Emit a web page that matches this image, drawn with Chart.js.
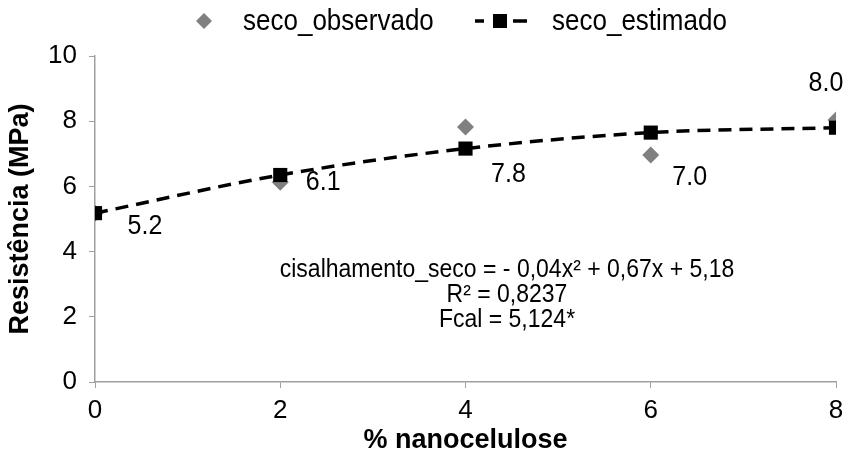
<!DOCTYPE html>
<html>
<head>
<meta charset="utf-8">
<script src="https://cdn.jsdelivr.net/npm/chart.js@4"></script>
<style>
  html, body { margin: 0; padding: 0; background: #fff; }
  #wrap { width: 847px; height: 457px; }
</style>
</head>
<body>
<div id="wrap"><canvas id="chart" width="847" height="457"></canvas></div>
<script>
const nanocelulose = [0, 2, 4, 6, 8];
const secoObservado = [5.18, 6.13, 7.82, 6.96, 8.04];
const secoEstimado = [5.18, 6.35, 7.16, 7.65, 7.80];
const rotulos = ["5.2", "6.1", "7.8", "7.0", "8.0"];
const equacao = ["cisalhamento_seco = - 0,04x² + 0,67x + 5,18", "R² = 0,8237", "Fcal = 5,124*"];

const FONT = "'Liberation Sans', Arial, sans-serif";

// text in the original is a bit taller than wide, stretch it slightly
function tallText(ctx, txt, x, y) {
  ctx.save();
  ctx.translate(x, y);
  ctx.scale(1, 1.12);
  ctx.fillText(txt, 0, 0);
  ctx.restore();
}

const labelsPlugin = {
  id: "labels",
  afterDatasetsDraw(chart) {
    const ctx = chart.ctx;
    const xs = chart.scales.x, ys = chart.scales.y;
    // label offsets (px) relative to the observed point
    const off = [[50, 13], [43, 0], [43, 47], [39, 22], [-10, -37]];
    ctx.save();
    ctx.fillStyle = "#000";
    ctx.font = "25px " + FONT;
    ctx.textAlign = "center";
    ctx.textBaseline = "middle";
    nanocelulose.forEach((x, i) => {
      tallText(ctx, rotulos[i], xs.getPixelForValue(x) + off[i][0], ys.getPixelForValue(secoObservado[i]) + off[i][1]);
    });
    ctx.font = "23px " + FONT;
    equacao.forEach((t, i) => tallText(ctx, t, 507, 270 + i * 25));

    // legend
    ctx.font = "26px " + FONT;
    ctx.textAlign = "left";
    ctx.fillStyle = "#808080";
    ctx.beginPath();
    ctx.moveTo(204, 13); ctx.lineTo(212, 21); ctx.lineTo(204, 29); ctx.lineTo(196, 21);
    ctx.closePath(); ctx.fill();
    ctx.fillStyle = "#000";
    tallText(ctx, "seco_observado", 243, 22);
    ctx.lineWidth = 3.5;
    ctx.strokeStyle = "#000";
    ctx.beginPath();
    ctx.moveTo(475, 21); ctx.lineTo(484, 21);
    ctx.moveTo(513, 21); ctx.lineTo(527, 21);
    ctx.stroke();
    ctx.fillRect(493, 14, 14, 14);
    tallText(ctx, "seco_estimado", 552, 22);
    ctx.restore();
  }
};

new Chart(document.getElementById("chart").getContext("2d"), {
  type: "scatter",
  data: {
    datasets: [
      {
        label: "seco_observado",
        data: nanocelulose.map((x, i) => ({ x: x, y: secoObservado[i] })),
        pointStyle: "rectRot",
        pointRadius: 8.5,
        pointBackgroundColor: "#808080",
        pointBorderColor: "#808080",
        pointBorderWidth: 0,
        order: 1
      },
      {
        label: "seco_estimado",
        data: nanocelulose.map((x, i) => ({ x: x, y: secoEstimado[i] })),
        showLine: true,
        borderColor: "#000",
        borderWidth: 3.5,
        borderDash: [13, 8],
        tension: 0.4,
        cubicInterpolationMode: "monotone",
        pointStyle: "rect",
        pointRadius: 10,
        pointBackgroundColor: "#000",
        pointBorderColor: "#000",
        pointBorderWidth: 0,
        order: 0
      }
    ]
  },
  options: {
    responsive: false,
    animation: false,
    layout: { padding: { left: 0, top: 56, right: 11, bottom: 0 } },
    plugins: { legend: { display: false }, tooltip: { enabled: false } },
    scales: {
      x: {
        type: "linear",
        min: 0, max: 8,
        afterFit: s => { s.height = 75; s.paddingLeft = 0; s.paddingRight = 0; },
        border: { color: "#a0a0a0", width: 1.5 },
        grid: { drawOnChartArea: false, drawTicks: true, tickLength: 6, color: "#a0a0a0" },
        ticks: { stepSize: 2, color: "#000", font: { family: FONT, size: 26 }, padding: 7 },
        title: { display: true, text: "% nanocelulose", color: "#000", font: { family: FONT, size: 27, weight: "bold" }, padding: { top: 0, bottom: 0 } }
      },
      y: {
        min: 0, max: 10,
        afterFit: s => { s.width = 95; },
        border: { color: "#a0a0a0", width: 1.5 },
        grid: { drawOnChartArea: false, drawTicks: true, tickLength: 6, color: "#a0a0a0" },
        ticks: { stepSize: 2, color: "#000", font: { family: FONT, size: 26 }, padding: 12 },
        title: { display: true, text: "Resistência (MPa)", color: "#000", font: { family: FONT, size: 27, weight: "bold" }, padding: { top: 4, bottom: 0 } }
      }
    }
  },
  plugins: [labelsPlugin]
});
</script>
</body>
</html>
